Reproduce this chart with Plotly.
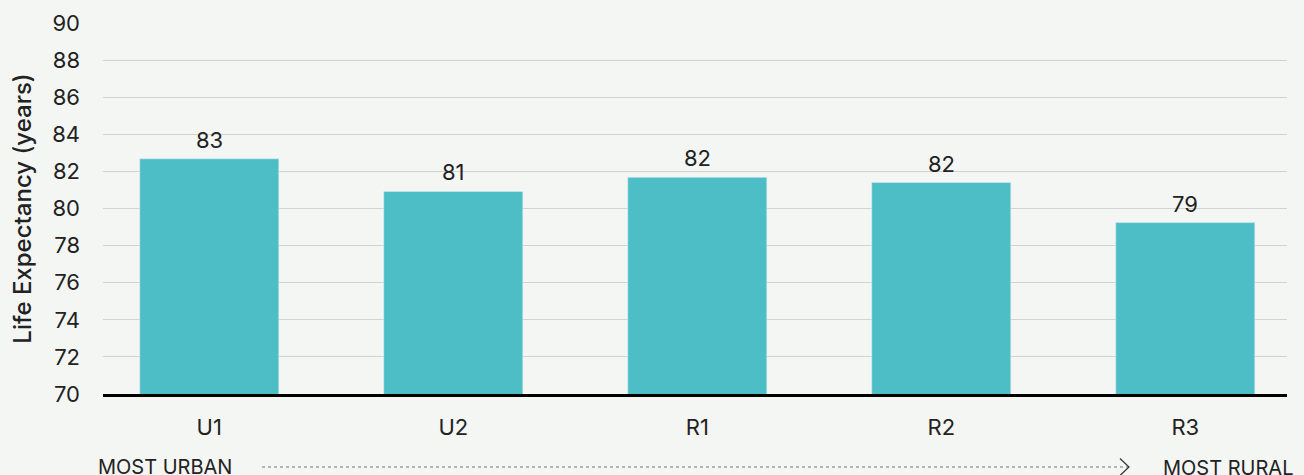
import plotly.graph_objects as go

categories = ["U1", "U2", "R1", "R2", "R3"]
life_expectancy = [82.68, 80.92, 81.68, 81.40, 79.24]
value_labels = ["83", "81", "82", "82", "79"]
y_ticks = [70, 72, 74, 76, 78, 80, 82, 84, 86, 88, 90]

FONT = "Inter, 'Open Sans', sans-serif"
BG = "#F4F6F3"
BAR = "#4EBEC6"
TXT = "#222222"

OFF = 8  # page offset of the figure (body margin)
W, H = 1304, 475
L = 103 - OFF
T = 23 - OFF
R = W - (1287 - OFF)
B = H - (394 - OFF)
pw = W - L - R
ph = H - T - B

def px_x(px):
    return (px - OFF - L) / pw

def px_y(py):
    return (H - B - (py - OFF)) / ph

fig = go.Figure()
fig.add_trace(go.Bar(
    x=categories, y=life_expectancy, marker_color=BAR, width=0.57,
    hoverinfo="x+y", showlegend=False,
))

for c, v, t in zip(categories, life_expectancy, value_labels):
    fig.add_annotation(x=c, y=v, text=t, showarrow=False, yanchor="bottom",
                       yshift=4, font=dict(family=FONT, size=22, color=TXT))

# Bottom direction annotation
fig.add_annotation(xref="paper", yref="paper", x=px_x(96), y=px_y(467),
                   text="MOST URBAN", showarrow=False, xanchor="left", yanchor="middle",
                   font=dict(family=FONT, size=20, color=TXT))
fig.add_annotation(xref="paper", yref="paper", x=px_x(1161), y=px_y(468),
                   text="MOST RURAL", showarrow=False, xanchor="left", yanchor="middle",
                   font=dict(family=FONT, size=20, color=TXT))
fig.add_shape(type="line", xref="paper", yref="paper",
              x0=px_x(262), x1=px_x(1129), y0=px_y(467), y1=px_y(467),
              line=dict(color="#777777", width=1.2, dash="dot"))
fig.add_shape(type="path", xref="paper", yref="paper",
              path=f"M {px_x(1120)} {px_y(458.5)} L {px_x(1129)} {px_y(467)} L {px_x(1120)} {px_y(475.5)}",
              line=dict(color="#333333", width=1.2))

fig.update_layout(
    width=W, height=H,
    margin=dict(l=L, r=R, t=T, b=B, pad=0, autoexpand=False),
    paper_bgcolor=BG, plot_bgcolor=BG,
    font=dict(family=FONT, size=22, color=TXT),
    xaxis=dict(
        range=[-0.4356, 4.417], showgrid=False, zeroline=False, automargin=False,
        showline=True, linecolor="#000000", linewidth=2.5,
        ticks="", tickfont=dict(family=FONT, size=22, color=TXT),
        ticklabelstandoff=12,
    ),
    yaxis=dict(
        range=[70, 90], tickvals=y_ticks, showgrid=True, gridcolor="#D3D3D3",
        gridwidth=1, zeroline=False, showline=False, ticks="", automargin=False,
        tickfont=dict(family=FONT, size=22, color=TXT), ticklabelstandoff=22,
        title=dict(text="Life Expectancy (years)", standoff=16,
                   font=dict(family=FONT, size=24, color=TXT, weight=500)),
    ),
)

fig.write_html(
    "out.html",
    post_script=f"document.body.style.backgroundColor='{BG}';"
                "document.documentElement.style.backgroundColor='" + BG + "';",
)
